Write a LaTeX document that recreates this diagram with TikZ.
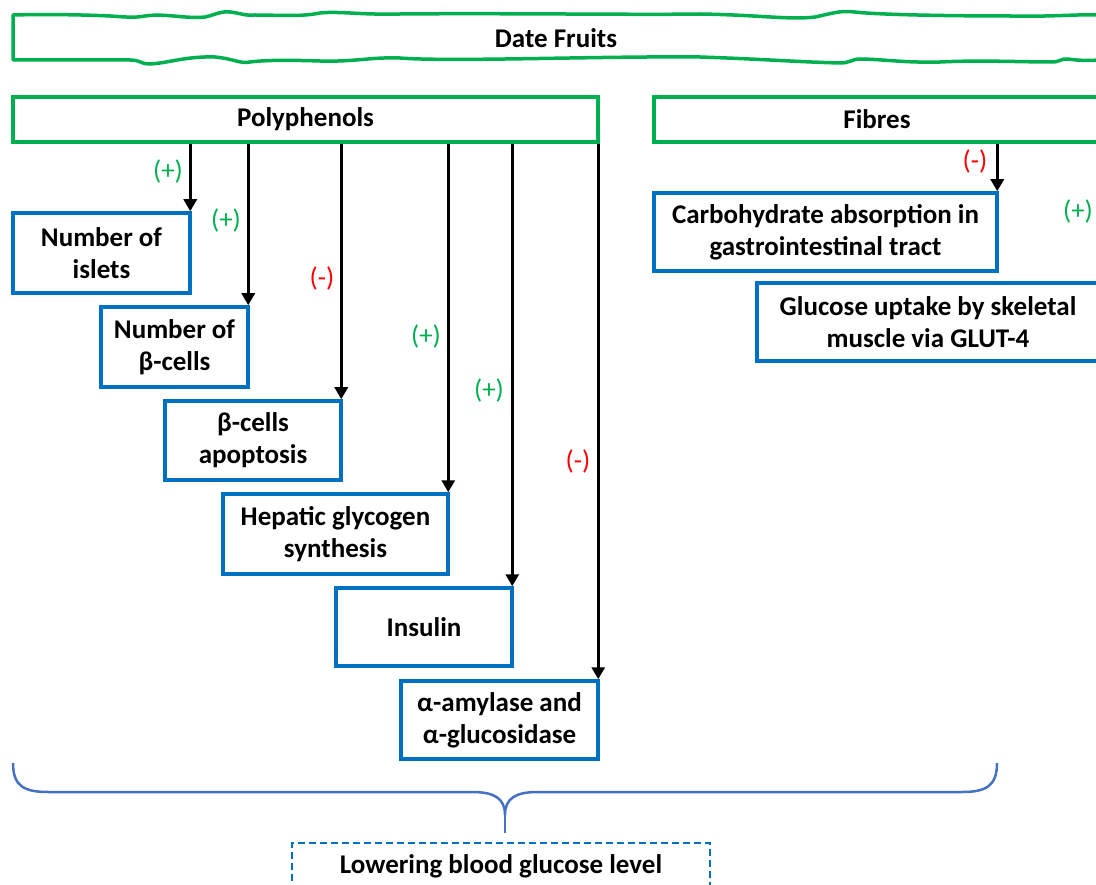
\documentclass[tikz,border=0pt]{standalone}
\usepackage{fontspec}
\setmainfont{Carlito}
\usetikzlibrary{arrows.meta}
\definecolor{bgreen}{HTML}{00B050}
\definecolor{bblue}{HTML}{0070C0}
\definecolor{bred}{HTML}{FF0000}
\definecolor{brace}{HTML}{4472C4}
\begin{document}
\begin{tikzpicture}[x=1pt,y=-1pt,
  gbox/.style={draw=bgreen,line width=3.5pt,inner sep=0pt,font=\fontsize{27}{32}\selectfont\bfseries},
  bbox/.style={draw=bblue,line width=3.5pt,inner sep=0pt,align=center,font=\fontsize{27}{32}\selectfont\bfseries},
  arr/.style={line width=3.5pt,-{Triangle[length=12pt,width=13pt]}},
  plus/.style={text=bgreen,font=\fontsize{27}{30}\selectfont},
  minus/.style={text=bred,font=\fontsize{27}{30}\selectfont}]
\useasboundingbox (0,0) rectangle (1096,885);
\clip (0,0) rectangle (1096,885);
% wavy banner
\draw[bgreen,line width=3.5pt,line join=round]
  (13,15) .. controls (50,14) and (90,15) .. (110,16)
  .. controls (125,17) and (135,18) .. (145,16)
  .. controls (165,13) and (185,19) .. (205,17)
  .. controls (215,15) and (220,11) .. (230,12)
  .. controls (240,13) and (245,16) .. (255,15)
  .. controls (280,15) and (300,17) .. (320,13)
  .. controls (340,11) and (360,15) .. (400,14)
  .. controls (500,13) and (640,15) .. (700,14)
  .. controls (760,15) and (790,20) .. (815,17)
  .. controls (830,14) and (840,10) .. (855,12)
  .. controls (880,15) and (960,16) .. (1010,16)
  .. controls (1050,17) and (1080,14) .. (1099,15)
  -- (1099,60)
  .. controls (1085,61) and (1075,60) .. (1068,59)
  .. controls (1062,58) and (1060,62) .. (1052,62)
  .. controls (1020,62) and (980,60) .. (940,62)
  .. controls (905,63) and (880,59) .. (860,59)
  .. controls (852,59) and (850,63) .. (840,63)
  .. controls (800,62) and (760,59) .. (700,57)
  .. controls (600,56) and (450,62) .. (400,58)
  .. controls (370,57) and (355,62) .. (320,61)
  .. controls (290,60) and (265,60) .. (250,62)
  .. controls (240,64) and (235,59) .. (215,57)
  .. controls (185,56) and (165,64) .. (148,64)
  .. controls (142,64) and (140,60) .. (130,60)
  -- (13,60) -- cycle;
\node[font=\fontsize{27}{32}\selectfont\bfseries] (date) at (556,38) {Date Fruits};
% category boxes
\node[gbox,minimum width=585pt,minimum height=45pt] (poly) at (305.5,119.5) {Polyphenols};
\node[gbox,minimum width=446pt,minimum height=45pt] (fib) at (877,119.5) {Fibres};
% effect boxes
\node[bbox,minimum width=177pt,minimum height=80pt] (islets) at (101.5,253) {Number of\\islets};
\node[bbox,minimum width=147pt,minimum height=80pt] (bcells) at (174.5,347) {Number of\\β-cells};
\node[bbox,minimum width=176pt,minimum height=79pt] (apop) at (253,440.5) {β-cells\\apoptosis};
\node[bbox,minimum width=225pt,minimum height=80pt] (hep) at (335.5,534) {Hepatic glycogen\\synthesis};
\node[bbox,minimum width=176pt,minimum height=78pt] (ins) at (424,627) {Insulin};
\node[bbox,minimum width=197pt,minimum height=78pt] (amy) at (499.5,720) {α-amylase and\\α-glucosidase};
\node[bbox,minimum width=343pt,minimum height=78pt] (carb) at (825.5,232) {Carbohydrate absorption in\\gastrointestinal tract};
\node[bbox,minimum width=342pt,minimum height=78pt] (glu) at (928,322) {Glucose uptake by skeletal\\muscle via GLUT-4};
% arrows
\foreach \b in {islets,bcells,apop,hep,ins,amy}{
  \draw[arr] ([xshift=-1.5pt]\b.north east |- poly.south) -- ([xshift=-1.5pt]\b.north east);
}
\draw[arr] ([xshift=-1.5pt]carb.north east |- fib.south) -- ([xshift=-1.5pt]carb.north east);
\draw[arr] ([xshift=5pt]glu.north east |- fib.south) -- ([xshift=5pt]glu.north east);
% labels
\node[plus] (l1) at (168,172) {(+)};
\node[plus] (l2) at (226,220) {(+)};
\node[minus] (l3) at (322,278) {(-)};
\node[plus] (l4) at (426,336) {(+)};
\node[plus] (l5) at (489,390) {(+)};
\node[minus] (l6) at (578,461) {(-)};
\node[minus] (l7) at (975,162) {(-)};
\node[plus] (l8) at (1078,211) {(+)};
% brace
\coordinate (bl) at (13,763);
\coordinate (br) at (997,763);
\coordinate (bt) at (505,833);
\draw[brace,line width=2.5pt]
  (bl) .. controls (13,786) and (24,792) .. (48,792) -- (472,792)
  .. controls (494,792) and (505,798) .. (505,815)
  .. controls (505,798) and (516,792) .. (538,792) -- (962,792)
  .. controls (986,792) and (997,786) .. (br);
\draw[brace,line width=2.5pt] (505,815) -- (bt);
% result
\node[draw=bblue,line width=2.5pt,dash pattern=on 7pt off 4pt,minimum width=418pt,minimum height=46pt,inner sep=0pt,font=\fontsize{27}{32}\selectfont\bfseries] (res) at (501,866) {Lowering blood glucose level};
\end{tikzpicture}
\end{document}
